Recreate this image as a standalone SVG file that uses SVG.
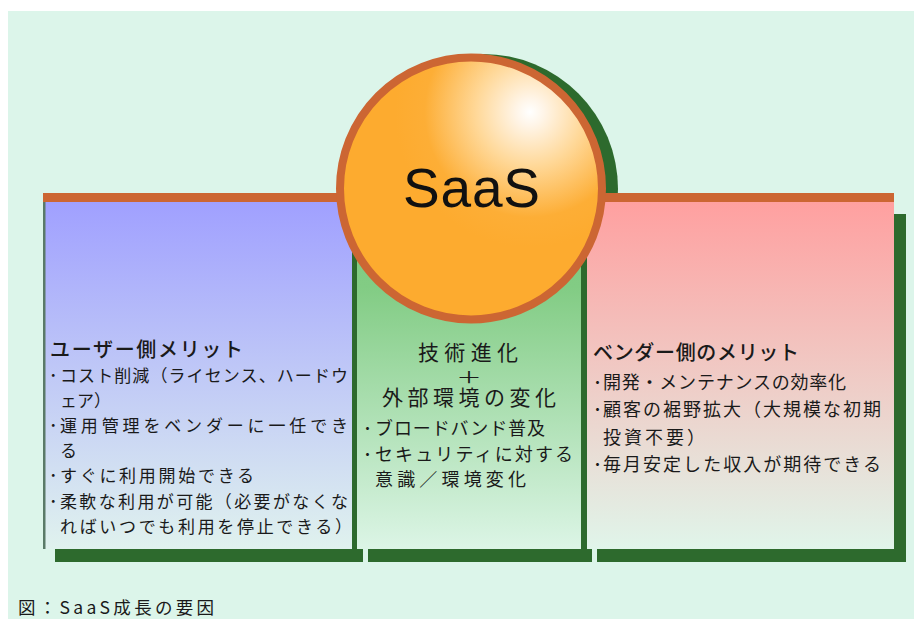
<svg xmlns="http://www.w3.org/2000/svg" width="914" height="619" viewBox="0 0 914 619">
  <defs>
    <linearGradient id="gBlue" gradientUnits="userSpaceOnUse" x1="0" y1="202" x2="0" y2="549">
      <stop offset="0" stop-color="#a0a0ff"/>
      <stop offset="1" stop-color="#e0f2ee"/>
    </linearGradient>
    <linearGradient id="gGreen" gradientUnits="userSpaceOnUse" x1="0" y1="200" x2="0" y2="549">
      <stop offset="0" stop-color="#7ec87e"/>
      <stop offset="0.25" stop-color="#82cc84"/>
      <stop offset="1" stop-color="#dcf5e6"/>
    </linearGradient>
    <linearGradient id="gPink" gradientUnits="userSpaceOnUse" x1="0" y1="202" x2="0" y2="549">
      <stop offset="0" stop-color="#ffa0a0"/>
      <stop offset="1" stop-color="#e0f5ea"/>
    </linearGradient>
    <radialGradient id="gSphere" gradientUnits="userSpaceOnUse" cx="530" cy="112" r="135" fx="530" fy="112">
      <stop offset="0" stop-color="#ffffff"/>
      <stop offset="0.1" stop-color="#fff5e8"/>
      <stop offset="0.4" stop-color="#ffd898"/>
      <stop offset="0.78" stop-color="#fdae36"/>
      <stop offset="1" stop-color="#fdab2f"/>
    </radialGradient>
    <style>
      .shadow { fill: #2d6a2d; }
      .bar { fill: #cc6633; }
      .jp { font-family: "Noto Sans CJK JP", "Noto Sans", sans-serif; fill: #1a1a1a; }
      .head { font-size: 20px; font-weight: 500; }
      .body17 { font-size: 17px; }
      .body18 { font-size: 18px; }
      .big { font-size: 21px; }
      .saas { font-family: "Liberation Sans", Arial, sans-serif; font-size: 55px; fill: #111; }
    </style>
  </defs>

  <!-- background -->
  <rect x="0" y="0" width="914" height="619" fill="#ffffff"/>
  <rect x="8" y="11" width="906" height="608" fill="#dcf5ea"/>

  <!-- sphere shadow (behind panels) -->
  <circle cx="483" cy="189" r="135" class="shadow"/>

  <g id="panel-user">
    <rect class="shadow" x="55" y="213" width="308" height="349"/>
    <rect x="44" y="202" width="308" height="347" fill="url(#gBlue)"/>
    <rect x="43" y="202" width="2.5" height="347" fill="#5a7a68"/>
    <text class="jp head" x="50" y="357" textLength="193" lengthAdjust="spacing">ユーザー側メリット</text>
    <text class="jp body17" x="49" y="382">･</text>
    <text class="jp body17" x="60" y="382" textLength="288" lengthAdjust="spacing">コスト削減（ライセンス、ハードウ</text>
    <text class="jp body17" x="60" y="407">ェア）</text>
    <text class="jp body17" x="49" y="432">･</text>
    <text class="jp body17" x="60" y="432" textLength="288" lengthAdjust="spacing">運用管理をベンダーに一任でき</text>
    <text class="jp body17" x="60" y="457">る</text>
    <text class="jp body17" x="49" y="482">･</text>
    <text class="jp body17" x="60" y="482" textLength="194" lengthAdjust="spacing">すぐに利用開始できる</text>
    <text class="jp body17" x="49" y="508">･</text>
    <text class="jp body17" x="60" y="508" textLength="288" lengthAdjust="spacing">柔軟な利用が可能（必要がなくな</text>
    <text class="jp body17" x="60" y="533" textLength="292" lengthAdjust="spacing">ればいつでも利用を停止できる）</text>
  </g>

  <g id="panel-tech">
    <rect class="shadow" x="368" y="212" width="224" height="350"/>
    <rect x="357" y="200" width="224" height="349" fill="url(#gGreen)"/>
    <text class="jp big" x="418" y="360" textLength="100" lengthAdjust="spacing">技術進化</text>
    <text class="jp" x="456" y="383" font-size="16" textLength="26" lengthAdjust="spacingAndGlyphs">＋</text>
    <text class="jp big" x="382" y="405" textLength="174" lengthAdjust="spacing">外部環境の変化</text>
    <text class="jp body18" x="363" y="435">･</text>
    <text class="jp body18" x="375" y="435" textLength="170" lengthAdjust="spacing">ブロードバンド普及</text>
    <text class="jp body18" x="363" y="461">･</text>
    <text class="jp body18" x="375" y="461" textLength="198" lengthAdjust="spacing">セキュリティに対する</text>
    <text class="jp body18" x="375" y="486" textLength="151" lengthAdjust="spacing">意識／環境変化</text>
  </g>

  <g id="panel-vendor">
    <rect class="shadow" x="597" y="214" width="309" height="348"/>
    <rect x="587" y="202" width="307" height="347" fill="url(#gPink)"/>
    <text class="jp head" x="593" y="360" textLength="206" lengthAdjust="spacing">ベンダー側のメリット</text>
    <text class="jp body18" x="593" y="389">･</text>
    <text class="jp body18" x="603" y="389" textLength="243" lengthAdjust="spacing">開発・メンテナンスの効率化</text>
    <text class="jp body18" x="593" y="416">･</text>
    <text class="jp body18" x="603" y="416" textLength="278" lengthAdjust="spacing">顧客の裾野拡大（大規模な初期</text>
    <text class="jp body18" x="603" y="444" textLength="102" lengthAdjust="spacing">投資不要）</text>
    <text class="jp body18" x="593" y="471">･</text>
    <text class="jp body18" x="603" y="471" textLength="278" lengthAdjust="spacing">毎月安定した収入が期待できる</text>
  </g>

  <!-- top orange band -->
  <rect class="bar" x="43" y="193" width="851" height="9"/>

  <g id="saas">
    <circle cx="471" cy="188.5" r="131" fill="url(#gSphere)" stroke="#cc6633" stroke-width="8"/>
    <text class="saas" x="403" y="207" textLength="137" lengthAdjust="spacing">SaaS</text>
  </g>

  <g id="connectors"/>

  <g id="caption">
    <text class="jp" x="18" y="614" font-size="17.5" fill="#333" textLength="196" lengthAdjust="spacing">図：SaaS成長の要因</text>
  </g>
</svg>
